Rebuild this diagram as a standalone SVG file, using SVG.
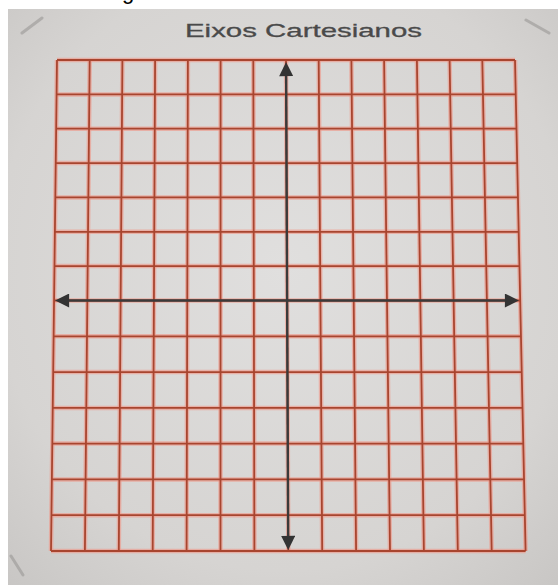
<svg xmlns="http://www.w3.org/2000/svg" width="558" height="585" viewBox="0 0 558 585">
  <defs>
    <radialGradient id="paper" cx="0.5" cy="0.45" r="0.75">
      <stop offset="0" stop-color="#e0dfde"/>
      <stop offset="0.7" stop-color="#d6d4d2"/>
      <stop offset="1" stop-color="#c8c6c4"/>
    </radialGradient>
    <marker id="arrow" viewBox="0 0 10 10" refX="6.5" refY="5" markerWidth="18" markerHeight="14" markerUnits="userSpaceOnUse" orient="auto-start-reverse">
      <path d="M0,0 L10,5 L0,10 z" fill="#333333"/>
    </marker>
    <style>
      .halo { stroke: #ee9a8c; stroke-width: 4.5; stroke-opacity: 0.65; fill: none; }
      .grid { stroke: #a8452f; stroke-width: 1.8; fill: none; }
      .axis { stroke: #3a3a3a; stroke-width: 2.4; fill: none; }
      .mark { stroke: #9a9896; stroke-width: 3; stroke-linecap: round; opacity: 0.6; }
      .title { font-family: "Liberation Sans", Arial, sans-serif; font-size: 19px; fill: #4a4a4a; stroke: #4a4a4a; stroke-width: 0.3; }
    </style>
    <g id="gridlines">
      <path d="M57,60 L51,551 M89.7,60 L84.9,551 M122.4,60 L118.8,551 M155.1,60 L152.7,551 M187.9,60 L186.6,551 M220.6,60 L220.5,551 M253.3,60 L254.4,551 M286,60 L288.3,551 M318.7,60 L322.2,551 M351.4,60 L356.1,551 M384.1,60 L390,551 M416.9,60 L423.9,551 M449.6,60 L457.8,551 M482.3,60 L491.7,551 M515,60 L525.6,551"/>
      <path d="M57,60 L515,60 M56.6,94.4 L515.7,94.4 M56.2,128.7 L516.5,128.7 M55.7,163.1 L517.2,163.1 M55.3,197.4 L518,197.4 M54.9,231.8 L518.7,231.8 M54.5,266.1 L519.5,266.1 M54.1,300.5 L520.2,300.5 M53.6,336.3 L521,336.3 M53.2,372.1 L521.7,372.1 M52.7,407.9 L522.5,407.9 M52.3,443.6 L523.3,443.6 M51.9,479.4 L524.1,479.4 M51.4,515.2 L524.8,515.2 M51,551 L525.6,551"/>
    </g>
  </defs>

  <rect x="0" y="0" width="558" height="585" fill="#ffffff"/>
  <rect id="sheet" x="8" y="9" width="550" height="576" fill="url(#paper)"/>
  <text x="122" y="-1.5" font-family="Liberation Sans, Arial, sans-serif" font-size="22" fill="#000000">g</text>

  <g id="corner-marks">
    <line class="mark" x1="22" y1="33" x2="42" y2="18"/>
    <line class="mark" x1="526" y1="20" x2="549" y2="33"/>
    <line class="mark" x1="11" y1="556" x2="23" y2="575"/>
  </g>

  <g id="title">
    <text class="title" x="185" y="37" textLength="237" lengthAdjust="spacingAndGlyphs">Eixos Cartesianos</text>
  </g>

  <g id="grid">
    <use href="#gridlines" class="halo"/>
    <use href="#gridlines" class="grid"/>
  </g>

  <g id="connectors">
    <line id="y-axis" class="axis" x1="286.1" y1="67" x2="288.2" y2="545" marker-start="url(#arrow)" marker-end="url(#arrow)"/>
    <line id="x-axis" class="axis" x1="60" y1="300.5" x2="514" y2="300.5" marker-start="url(#arrow)" marker-end="url(#arrow)"/>
  </g>
</svg>
